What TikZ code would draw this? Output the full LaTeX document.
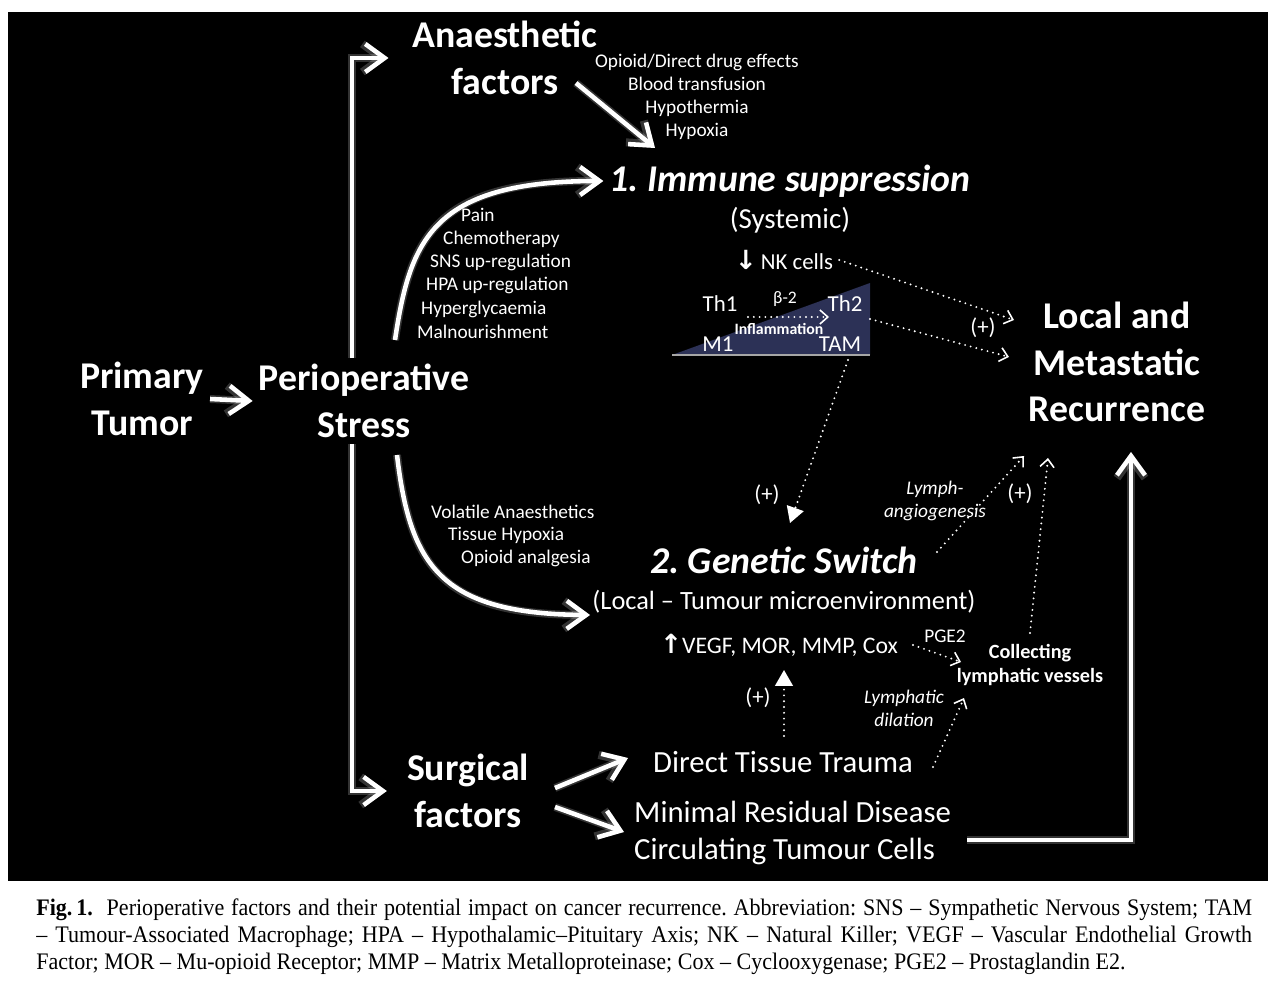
\documentclass[tikz,border=0pt]{standalone}
\usepackage{fontspec}
\setmainfont{Carlito}
\newfontfamily\capfont[FakeStretch=0.93]{Liberation Serif}
\newfontfamily\symfont{DejaVu Sans}
\usetikzlibrary{arrows.meta}
\definecolor{navy}{RGB}{44,49,86}
\frenchspacing
\tikzset{
  bigarr/.style={white, line width=2.6pt, line join=miter, -{Straight Barb[length=11pt,width=16pt]},
    preaction={draw=white, draw opacity=.2, line width=4.5pt}},
  dotarr/.style={white, line width=1.2pt, line cap=round, dash pattern=on 0pt off 3.3pt,
    -{Straight Barb[length=4.5pt,width=8pt,line width=0.9pt]}},
  dotfill/.style={white, line width=1.2pt, line cap=round, dash pattern=on 0pt off 3.3pt,
    -{Triangle[length=9pt,width=10pt]}},
  bigtxt/.style={white, align=center, font=\fontsize{21.5}{26.5}\selectfont\bfseries},
  titletxt/.style={white, font=\fontsize{21.5}{26}\selectfont\bfseries\itshape},
  midtxt/.style={white, font=\fontsize{16.5}{21}\selectfont},
  bodytxt/.style={white, font=\fontsize{17.5}{21}\selectfont},
  smalltxt/.style={white, font=\fontsize{11}{13.2}\selectfont},
  plustxt/.style={white, font=\fontsize{13}{15}\selectfont},
  ittxt/.style={white, align=center, font=\fontsize{11}{13}\selectfont\itshape},
  captxt/.style={black, inner sep=0pt, text width=24.32cm, align=justify,
    font=\capfont\fontsize{13.5}{15.4}\selectfont}
}
\begin{document}
\begin{tikzpicture}[x=0.02cm, y=-0.02cm]
        \useasboundingbox (0,0) rectangle (1272,986);
        \fill[white] (0,0) rectangle (1272,986);
        \fill[black] (8,12) rectangle (1268,881);
        \fill[navy] (672,355) -- (870,283) -- (870,355) -- cycle;
        \draw[gray!70, line width=1pt] (672,355) -- (870,355);
        \node[bigtxt] (prim) at (142,399) {Primary\\Tumor};
        \node[bigtxt] (stress) at (364,401) {Perioperative\\Stress};
        \node[bigtxt] (anaes) at (505,58) {Anaesthetic\\factors};
        \node[bigtxt] (surg) at (468,791) {Surgical\\factors};
        \node[bigtxt] (recur) at (1117,362) {Local and\\Metastatic\\Recurrence};
        \node[titletxt] (immune) at (790,181) {1. Immune suppression};
        \node[midtxt] (syst) at (790,220) {(Systemic)};
        \node[plustxt] (nk) at (784,260) {{\symfont\bfseries\fontsize{15}{15}\selectfont ↓}\,NK cells};
        \node[titletxt] (genetic) at (784,560) {2. Genetic Switch};
        \node[white, font=\fontsize{15}{19}\selectfont] (local) at (784,602) {(Local – Tumour microenvironment)};
        \node[white, font=\fontsize{13.5}{16}\selectfont] (vegf) at (779,645) {{\symfont\bfseries\fontsize{15}{15}\selectfont ↑}VEGF, MOR, MMP, Cox};
        \node[bodytxt] (trauma) at (783,762) {Direct Tissue Trauma};
        \node[bodytxt, align=left, anchor=west] (mrd) at (628,833) {Minimal Residual Disease\\Circulating Tumour Cells};
        \node[smalltxt, align=center] (druglist) at (697,97) {Opioid/Direct drug effects\\Blood transfusion\\Hypothermia\\Hypoxia};
        \node[smalltxt, anchor=west] (pain) at (455,215) {Pain};
        \node[smalltxt, anchor=west] (chemo) at (437,239) {Chemotherapy};
        \node[smalltxt, anchor=west] (sns) at (424,262) {SNS up-regulation};
        \node[smalltxt, anchor=west] (hpa) at (420,285) {HPA up-regulation};
        \node[smalltxt, anchor=west] (glyc) at (415,309) {Hyperglycaemia};
        \node[smalltxt, anchor=west] (maln) at (411,332) {Malnourishment};
        \node[smalltxt, anchor=west] (volat) at (425,512) {Volatile Anaesthetics};
        \node[smalltxt, anchor=west] (hypox) at (442,535) {Tissue Hypoxia};
        \node[smalltxt, anchor=west] (opio) at (455,558) {Opioid analgesia};
        \node[plustxt] (th1) at (720,304) {Th1};
        \node[plustxt] (th2) at (845,304) {Th2};
        \node[plustxt] (m1) at (718,344) {M1};
        \node[plustxt] (tam) at (840,344) {TAM};
        \node[white, font=\fontsize{10}{12}\selectfont] (beta) at (785,299) {β-2};
        \node[white, font=\fontsize{9}{11}\selectfont\bfseries] (infl) at (779,329) {Inflammation};
        \node[plustxt] (pl1) at (983,328) {(+)};
        \node[plustxt] (pl2) at (767,495) {(+)};
        \node[plustxt] (pl3) at (1020,494) {(+)};
        \node[plustxt] (pl4) at (758,698) {(+)};
        \node[white, font=\fontsize{11}{13}\selectfont] (pge) at (945,636) {PGE2};
        \node[white, align=center, font=\fontsize{11.5}{14.2}\selectfont\bfseries] (coll) at (1030,665) {Collecting\\lymphatic vessels};
        \node[ittxt] (angio) at (935,501) {Lymph-\\angiogenesis};
        \node[ittxt] (dila) at (904,708) {Lymphatic\\dilation};
        \node[captxt, anchor=north west] (cap) at (36,898) {\hyphenpenalty=10000\textbf{Fig.\,1.}\ \ Perioperative factors and their potential impact on cancer recurrence. Abbreviation: SNS – Sympathetic Nervous System; TAM\linebreak
        – Tumour-Associated Macrophage; HPA – Hypothalamic–Pituitary Axis; NK – Natural Killer; VEGF – Vascular Endothelial Growth\linebreak
        Factor; MOR – Mu-opioid Receptor; MMP – Matrix Metalloproteinase; Cox – Cyclooxygenase; PGE2 – Prostaglandin E2.};
        \coordinate (vx) at (352,0);
        \coordinate (a0) at (576,83);
        \coordinate (a1) at (655,148);
        \coordinate (c0) at (395,340);
        \coordinate (g0) at (397,455);
        \coordinate (g1) at (590,615);
        \coordinate (s0) at (555,788);
        \coordinate (s1) at (628,758);
        \coordinate (s2) at (555,807);
        \coordinate (s3) at (624,832);
        \coordinate (m0) at (967,840);
        \coordinate (r0) at (1131,452);
        \coordinate (lr1) at (1014,320);
        \coordinate (lr2) at (1009,357);
        \coordinate (th2r) at (870,319);
        \coordinate (tamb) at (848,360);
        \coordinate (gsw) at (790,523);
        \coordinate (ge) at (937,552);
        \coordinate (lr3) at (1024,456);
        \coordinate (cl0) at (1030,633);
        \coordinate (lr4) at (1048,458);
        \coordinate (v0) at (913,645);
        \coordinate (cl1) at (961,662);
        \coordinate (t0) at (933,767);
        \coordinate (cl2) at (964,698);
        \coordinate (t1) at (784,736);
        \coordinate (v1) at (784,670);
        \coordinate (i0) at (748,317);
        \coordinate (i1) at (829,317);
        \draw[bigarr] (prim.east) -- (stress.west);
        \draw[bigarr] (vx |- stress.north) |- ([xshift=-10]anaes.west);
        \draw[bigarr] (vx |- stress.south) |- ([xshift=-8]surg.west);
        \draw[bigarr] (a0) -- (a1);
        \draw[bigarr] (c0) .. controls (410,240) and (432,181) .. (immune.west);
        \draw[bigarr] (g0) .. controls (410,565) and (440,614) .. (g1);
        \draw[bigarr] (s0) -- (s1);
        \draw[bigarr] (s2) -- (s3);
        \draw[bigarr] (m0) -| (r0);
        \draw[dotarr] (nk.east) -- (lr1);
        \draw[dotarr] (th2r) -- (lr2);
        \draw[dotarr] (i0) -- (i1);
        \draw[dotfill] (tamb) -- (gsw);
        \draw[dotarr] (ge) -- (lr3);
        \draw[dotarr] (cl0) -- (lr4);
        \draw[dotarr] (v0) -- (cl1);
        \draw[dotarr] (t0) -- (cl2);
        \draw[dotfill] (t1) -- (v1);
\end{tikzpicture}
\end{document}
